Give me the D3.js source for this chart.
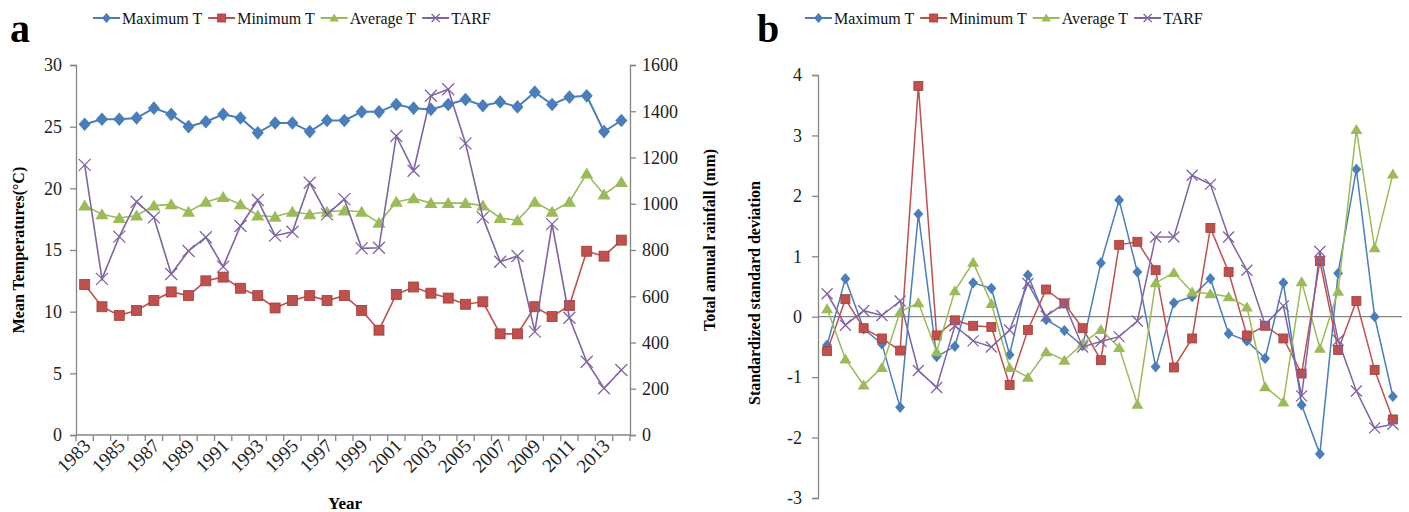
<!DOCTYPE html>
<html>
<head>
<meta charset="utf-8">
<script src="https://cdn.jsdelivr.net/npm/d3@7"></script>
<style>
  body { margin: 0; background: #fff; }
  svg { display: block; }
  text { font-family: "Liberation Serif", "Times New Roman", serif; }
</style>
</head>
<body>
<svg id="chart" width="1409" height="512"></svg>
<script>
// categories
var years = [1983, 1984, 1985, 1986, 1987, 1988, 1989, 1990, 1991, 1992, 1993, 1994, 1995, 1996, 1997, 1998,
  1999, 2000, 2001, 2002, 2003, 2004, 2005, 2006, 2007, 2008, 2009, 2010, 2011, 2012, 2013, 2014];
var yearLabels = [1983, 1985, 1987, 1989, 1991, 1993, 1995, 1997, 1999, 2001, 2003, 2005, 2007, 2009, 2011, 2013];

// panel a: mean temperatures (°C) and total annual rainfall (mm)
var maxT = [25.2, 25.6, 25.6, 25.7, 26.5, 26.0, 25.0, 25.4, 26.0, 25.7, 24.5, 25.3, 25.3, 24.6, 25.5, 25.5,
  26.2, 26.2, 26.8, 26.5, 26.4, 26.8, 27.2, 26.7, 27.0, 26.6, 27.8, 26.8, 27.4, 27.5, 24.6, 25.5];
var minT = [12.2, 10.4, 9.7, 10.1, 10.9, 11.6, 11.3, 12.5, 12.8, 11.9, 11.3, 10.3, 10.9, 11.3, 10.9, 11.3,
  10.1, 8.5, 11.4, 12.0, 11.5, 11.1, 10.6, 10.8, 8.2, 8.2, 10.4, 9.6, 10.5, 14.9, 14.5, 15.8];
var avgT = [18.6, 17.9, 17.6, 17.8, 18.6, 18.7, 18.1, 18.9, 19.3, 18.7, 17.8, 17.7, 18.1, 17.9, 18.1, 18.2,
  18.1, 17.2, 18.9, 19.2, 18.8, 18.8, 18.8, 18.6, 17.6, 17.4, 18.9, 18.1, 18.9, 21.2, 19.5, 20.5];
var tarf = [1168, 675, 858, 1009, 941, 696, 796, 855, 728, 904, 1016, 862, 879, 1091, 954, 1020,
  807, 810, 1293, 1143, 1467, 1495, 1261, 941, 749, 774, 447, 912, 507, 317, 202, 281];

// panel b: standardized values
var zMaxT = [-0.47, 0.63, -0.2, -0.45, -1.5, 1.70, -0.66, -0.49, 0.56, 0.47, -0.63, 0.69, -0.05, -0.23, -0.48, 0.89,
  1.93, 0.74, -0.83, 0.23, 0.33, 0.63, -0.28, -0.40, -0.69, 0.56, -1.46, -2.27, 0.72, 2.44, 0.0, -1.32];
var zMinT = [-0.57, 0.29, -0.19, -0.36, -0.56, 3.82, -0.31, -0.06, -0.15, -0.17, -1.13, -0.22, 0.45, 0.22, -0.19, -0.72,
  1.19, 1.24, 0.77, -0.84, -0.36, 1.47, 0.74, -0.31, -0.15, -0.36, -0.94, 0.92, -0.55, 0.26, -0.88, -1.70];
var zAvgT = [0.13, -0.70, -1.13, -0.84, 0.08, 0.23, -0.58, 0.43, 0.90, 0.22, -0.84, -1.0, -0.58, -0.72, -0.45, -0.21,
  -0.51, -1.45, 0.56, 0.73, 0.41, 0.38, 0.33, 0.16, -1.16, -1.41, 0.58, -0.52, 0.42, 3.10, 1.14, 2.36];
var zTarf = [0.38, -0.14, 0.10, 0.02, 0.26, -0.89, -1.17, -0.15, -0.40, -0.50, -0.22, 0.55, 0.01, 0.22, -0.50, -0.41,
  -0.33, -0.07, 1.32, 1.32, 2.34, 2.19, 1.32, 0.77, -0.13, 0.18, -1.31, 1.08, -0.39, -1.23, -1.84, -1.78];

var seriesNames = ["Maximum T", "Minimum T", "Average T", "TARF"];
var colors = ["#4a7ebb", "#c0504d", "#9bbb59", "#8064a2"];
var symbols = ["diamond", "square", "triangle", "cross"];

var svg = d3.select("#chart");
var axisColor = "#868686";
var plainNum = function(d) { return String(d); }; // hyphen minus, no thousands comma

function drawMarker(g, kind, x, y, color, s) {
  if (kind === "diamond") {
    g.append("path").attr("d", "M" + x + "," + (y - s * 0.62) + "L" + (x + s * 0.55) + "," + y +
      "L" + x + "," + (y + s * 0.62) + "L" + (x - s * 0.55) + "," + y + "Z").attr("fill", color);
  } else if (kind === "square") {
    g.append("rect").attr("x", x - s / 2).attr("y", y - s / 2).attr("width", s).attr("height", s)
      .attr("fill", color).attr("stroke", "#a23c39").attr("stroke-width", 0.8);
  } else if (kind === "triangle") {
    g.append("path").attr("d", "M" + x + "," + (y - s * 0.55) + "L" + (x + s * 0.6) + "," + (y + s * 0.45) +
      "L" + (x - s * 0.6) + "," + (y + s * 0.45) + "Z").attr("fill", color);
  } else {
    var h = s * 0.5;
    g.append("path").attr("d", "M" + (x - h) + "," + (y - h) + "L" + (x + h) + "," + (y + h) +
      "M" + (x - h) + "," + (y + h) + "L" + (x + h) + "," + (y - h))
      .attr("stroke", color).attr("stroke-width", 1.3).attr("fill", "none");
  }
}

function drawSeries(g, values, x, y, i, lw, ms) {
  var line = d3.line()
    .x(function(d, j) { return x(years[j]) + x.bandwidth() / 2; })
    .y(function(d) { return y(d); });
  g.append("path").datum(values).attr("d", line)
    .attr("fill", "none").attr("stroke", colors[i]).attr("stroke-width", lw);
  values.forEach(function(v, j) {
    drawMarker(g, symbols[i], x(years[j]) + x.bandwidth() / 2, y(v), colors[i], ms);
  });
}

function drawLegend(x0, y0, gaps) {
  var g = svg.append("g");
  var cx = x0;
  seriesNames.forEach(function(name, i) {
    g.append("line").attr("x1", cx).attr("x2", cx + 27).attr("y1", y0).attr("y2", y0)
      .attr("stroke", colors[i]).attr("stroke-width", 2);
    drawMarker(g, symbols[i], cx + 13.5, y0, colors[i], 8);
    var t = g.append("text").attr("x", cx + 29).attr("y", y0 + 6).attr("font-size", 16)
      .attr("fill", "#111").text(name);
    cx += 29 + t.node().getComputedTextLength() + gaps;
  });
}

function styleAxis(a) {
  a.select(".domain").attr("stroke", axisColor).attr("stroke-width", 1.3);
  a.selectAll(".tick line").attr("stroke", axisColor).attr("stroke-width", 1.3);
  a.selectAll(".tick text").attr("font-size", 18).attr("fill", "#222")
    .style("font-family", "'Liberation Serif', serif");
}

// ---------- panel a ----------
var ax = d3.scaleBand().domain(years).range([76, 630]).padding(0);
var ayL = d3.scaleLinear().domain([0, 30]).range([435, 65]);
var ayR = d3.scaleLinear().domain([0, 1600]).range([435, 65]);

var ga = svg.append("g");

var leftAxis = ga.append("g").attr("transform", "translate(76,0)")
  .call(d3.axisLeft(ayL).tickValues([0, 5, 10, 15, 20, 25, 30]).tickFormat(plainNum)
    .tickSize(6).tickPadding(8));
var rightAxis = ga.append("g").attr("transform", "translate(630,0)")
  .call(d3.axisRight(ayR).tickValues([0, 200, 400, 600, 800, 1000, 1200, 1400, 1600])
    .tickFormat(plainNum).tickSize(6).tickPadding(6));
styleAxis(leftAxis);
styleAxis(rightAxis);

// bottom axis with ticks between categories
ga.append("line").attr("x1", 76).attr("x2", 630).attr("y1", 435).attr("y2", 435)
  .attr("stroke", axisColor).attr("stroke-width", 1.3);
years.concat(["end"]).forEach(function(yr) {
  var px = yr === "end" ? ax.range()[1] : ax(yr);
  ga.append("line").attr("x1", px).attr("x2", px).attr("y1", 435).attr("y2", 441)
    .attr("stroke", axisColor).attr("stroke-width", 1.3);
});
yearLabels.forEach(function(yr) {
  var px = ax(yr) + ax.bandwidth() / 2 + 7;
  ga.append("text").attr("transform", "translate(" + px + ",447) rotate(-45)")
    .attr("text-anchor", "end").attr("font-size", 19).attr("fill", "#222").text(yr);
});

var plotA = ga.append("g");
drawSeries(plotA, maxT, ax, ayL, 0, 2, 11);
drawSeries(plotA, minT, ax, ayL, 1, 1.6, 10);
drawSeries(plotA, avgT, ax, ayL, 2, 1.6, 11);
drawSeries(plotA, tarf, ax, ayR, 3, 1.6, 12);

ga.append("text").attr("transform", "translate(24,250) rotate(-90)").attr("text-anchor", "middle")
  .attr("font-size", 16).attr("font-weight", "bold").text("Mean Temperatures(°C)");
ga.append("text").attr("transform", "translate(715,240) rotate(-90)").attr("text-anchor", "middle")
  .attr("font-size", 16).attr("font-weight", "bold").text("Total annual rainfall (mm)");
ga.append("text").attr("x", 345).attr("y", 509).attr("text-anchor", "middle")
  .attr("font-size", 17).attr("font-weight", "bold").text("Year");
ga.append("text").attr("x", 10).attr("y", 42).attr("font-size", 40).attr("font-weight", "bold").text("a");
drawLegend(93, 18, 6);

// ---------- panel b ----------
var bx = d3.scaleBand().domain(years).range([818, 1402]).padding(0);
var by = d3.scaleLinear().domain([-3, 4]).range([498, 75]);

var gb = svg.append("g");
var bAxis = gb.append("g").attr("transform", "translate(818,0)")
  .call(d3.axisLeft(by).tickValues([-3, -2, -1, 0, 1, 2, 3, 4]).tickFormat(plainNum)
    .tickSize(6).tickPadding(10));
styleAxis(bAxis);

gb.append("line").attr("x1", 818).attr("x2", 1402).attr("y1", by(0)).attr("y2", by(0))
  .attr("stroke", axisColor).attr("stroke-width", 1.3);

var plotB = gb.append("g");
drawSeries(plotB, zMaxT, bx, by, 0, 1.5, 9);
drawSeries(plotB, zMinT, bx, by, 1, 1.5, 9);
drawSeries(plotB, zAvgT, bx, by, 2, 1.5, 10);
drawSeries(plotB, zTarf, bx, by, 3, 1.5, 11);

gb.append("text").attr("transform", "translate(760,293) rotate(-90)").attr("text-anchor", "middle")
  .attr("font-size", 16).attr("font-weight", "bold").text("Standardized standard deviation");
gb.append("text").attr("x", 757).attr("y", 42).attr("font-size", 40).attr("font-weight", "bold").text("b");
drawLegend(805, 18, 6);
</script>
</body>
</html>
